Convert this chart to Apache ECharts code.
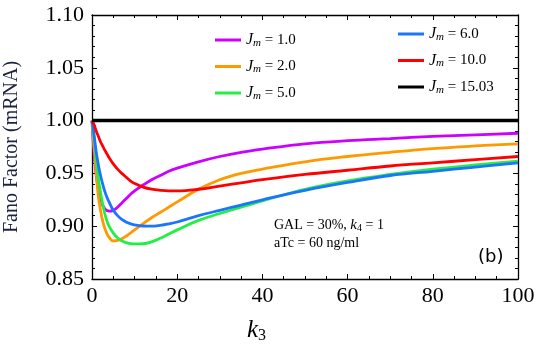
<!DOCTYPE html>
<html lang="en">
<head>
    <meta charset="UTF-8">
    <title>Fano Factor</title>
    <script src="https://cdn.jsdelivr.net/npm/echarts@6/dist/echarts.min.js"></script>
    <style>
        html, body { margin: 0; padding: 0; background: #fff; }
        #main { width: 540px; height: 354px; }
    </style>
</head>
<body>
<div id="main"></div>
<script type="text/javascript">
    // k3 values (x axis)
    var k3 = [0, 0.5, 1, 1.5, 2, 2.5, 3, 3.5, 4, 5, 6, 7, 8, 9, 10, 12, 14, 16, 18, 20, 25, 30, 35, 40, 50, 60, 70, 80, 90, 100];
    // Fano factor per Jm
    var jm1  = [1, 0.968, 0.948, 0.935, 0.926, 0.920, 0.9165, 0.9148, 0.9142, 0.915, 0.918, 0.922, 0.926, 0.930, 0.9335, 0.939, 0.944, 0.948, 0.952, 0.955, 0.961, 0.966, 0.970, 0.973, 0.978, 0.981, 0.983, 0.985, 0.9865, 0.988];
    var jm2  = [1, 0.975, 0.950, 0.928, 0.915, 0.905, 0.898, 0.893, 0.8895, 0.886, 0.8865, 0.888, 0.8905, 0.8935, 0.8965, 0.9025, 0.908, 0.913, 0.918, 0.923, 0.935, 0.944, 0.950, 0.954, 0.961, 0.966, 0.970, 0.9735, 0.976, 0.978];
    var jm5  = [1, 0.982, 0.962, 0.945, 0.932, 0.921, 0.912, 0.905, 0.900, 0.8935, 0.889, 0.8862, 0.8845, 0.8836, 0.8832, 0.8834, 0.8852, 0.8885, 0.8925, 0.8965, 0.9055, 0.912, 0.918, 0.924, 0.935, 0.943, 0.949, 0.954, 0.958, 0.9615];
    var jm6  = [1, 0.986, 0.970, 0.958, 0.948, 0.940, 0.933, 0.9275, 0.923, 0.915, 0.910, 0.9065, 0.904, 0.9024, 0.9012, 0.9002, 0.900, 0.9008, 0.9022, 0.904, 0.910, 0.915, 0.920, 0.925, 0.934, 0.9415, 0.948, 0.952, 0.956, 0.960];
    var jm10 = [1, 0.996, 0.990, 0.985, 0.980, 0.976, 0.972, 0.9685, 0.965, 0.959, 0.954, 0.950, 0.9465, 0.943, 0.9405, 0.937, 0.935, 0.934, 0.9335, 0.9335, 0.935, 0.938, 0.941, 0.944, 0.949, 0.953, 0.957, 0.960, 0.963, 0.966];
    var jm15 = [1, 1, 1, 1, 1, 1, 1, 1, 1, 1, 1, 1, 1, 1, 1, 1, 1, 1, 1, 1, 1, 1, 1, 1, 1, 1, 1, 1, 1, 1];

    var names  = ['1.0', '2.0', '5.0', '6.0', '10.0', '15.03'];
    var colors = ['#cc00ff', '#ff9900', '#22ee44', '#1a75ff', '#ff0000', '#000000'];
    var values = [jm1, jm2, jm5, jm6, jm10, jm15];

    var serif = 'Liberation Serif';
    var myChart = echarts.init(document.getElementById('main'));

    function pairs(arr) {
        return k3.map(function (k, i) { return [k, arr[i]]; });
    }

    var series = values.map(function (v, i) {
        return {
            name: names[i],
            type: 'line',
            symbol: 'none',
            smooth: i == 5 ? false : 0.4,
            data: pairs(v),
            z: i == 5 ? 10 : 2,
            lineStyle: { color: colors[i], width: i == 5 ? 3.5 : 2.8 },
            itemStyle: { color: colors[i] }
        };
    });

    var legendText = {
        fontFamily: serif,
        fontSize: 15,
        color: '#000',
        rich: {
            j: { fontFamily: serif, fontStyle: 'italic', fontSize: 16 },
            m: { fontFamily: serif, fontStyle: 'italic', fontSize: 11, verticalAlign: 'bottom', padding: [6, 0, 0, 0] },
            t: { fontFamily: serif, fontSize: 15 }
        }
    };
    function legendFmt(n) { return '{j|J}{m|m}{t| = ' + n + '}'; }

    var axisCommon = {
        type: 'value',
        axisLine: { show: true, onZero: false, lineStyle: { color: '#000', width: 1.3 } },
        axisTick: { show: true, inside: true, length: 5, lineStyle: { color: '#000' } },
        minorTick: { show: true, length: 3, lineStyle: { color: '#000' } },
        splitLine: { show: false }
    };

    option = {
        animation: false,
        grid: { left: 92, right: 22, top: 15, bottom: 75, containLabel: false, outerBoundsMode: 'none' },
        legend: [{
            data: names.slice(0, 3),
            orient: 'vertical',
            left: 210, top: 27,
            icon: 'rect', itemWidth: 26, itemHeight: 3, itemGap: 10,
            textStyle: legendText,
            formatter: legendFmt
        }, {
            data: names.slice(3),
            orient: 'vertical',
            left: 393, top: 21,
            icon: 'rect', itemWidth: 26, itemHeight: 3, itemGap: 10,
            textStyle: legendText,
            formatter: legendFmt
        }],
        xAxis: [Object.assign({}, axisCommon, {
            min: 0, max: 100, interval: 20,
            minorTick: Object.assign({}, axisCommon.minorTick, { splitNumber: 4 }),
            axisLabel: { fontFamily: serif, fontSize: 22, color: '#000', margin: 6 }
        }), Object.assign({}, axisCommon, {
            position: 'top',
            min: 0, max: 100, interval: 20,
            minorTick: Object.assign({}, axisCommon.minorTick, { splitNumber: 4 }),
            axisLabel: { show: false }
        })],
        yAxis: [Object.assign({}, axisCommon, {
            min: 0.85, max: 1.10, interval: 0.05,
            minorTick: Object.assign({}, axisCommon.minorTick, { splitNumber: 5 }),
            axisLabel: {
                fontFamily: serif, fontSize: 22, color: '#000', margin: 8,
                formatter: function (v) { return v.toFixed(2); }
            },
            name: 'Fano Factor (mRNA)',
            nameLocation: 'middle',
            nameGap: 70,
            nameTextStyle: { fontFamily: serif, fontSize: 20, color: '#1a2440' }
        }), Object.assign({}, axisCommon, {
            position: 'right',
            min: 0.85, max: 1.10, interval: 0.05,
            minorTick: Object.assign({}, axisCommon.minorTick, { splitNumber: 5 }),
            axisLabel: { show: false }
        })],
        graphic: [{
            type: 'text', left: 247, top: 318,
            style: {
                text: '{k|k}{s|3}',
                rich: {
                    k: { fontFamily: serif, fontStyle: 'italic', fontSize: 25, fill: '#000' },
                    s: { fontFamily: serif, fontSize: 16, fill: '#000', verticalAlign: 'bottom', padding: [10, 0, 0, 0] }
                }
            }
        }, {
            type: 'text', left: 274, top: 218,
            style: {
                text: '{n|GAL = 30%, }{k|k}{s|4}{n| = 1}',
                rich: {
                    n: { fontFamily: serif, fontSize: 14, fill: '#000' },
                    k: { fontFamily: serif, fontSize: 15, fontStyle: 'italic', fill: '#000' },
                    s: { fontFamily: serif, fontSize: 10, fill: '#000', verticalAlign: 'bottom', padding: [5, 0, 0, 0] }
                }
            }
        }, {
            type: 'text', left: 274, top: 236,
            style: { text: 'aTc = 60 ng/ml', font: '14px "Liberation Serif"', fill: '#000' }
        }, {
            type: 'text', left: 478, top: 248,
            style: { text: '(b)', font: '18px "DejaVu Sans"', fill: '#000' }
        }],
        series: series
    };

    myChart.setOption(option);
</script>
</body>
</html>
